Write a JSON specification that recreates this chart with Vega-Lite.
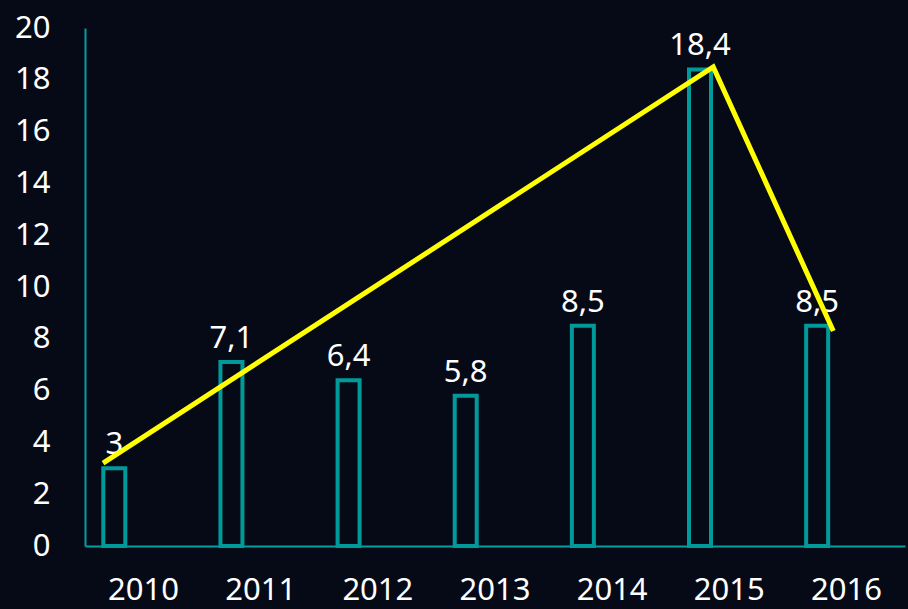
{
  "$schema": "https://vega.github.io/schema/vega-lite/v6.json",
  "width": 820,
  "height": 518,
  "autosize": {"type": "none"},
  "padding": {"left": 85, "top": 28, "right": 3, "bottom": 63},
  "background": "#060a17",
  "config": {
    "view": {"stroke": null},
    "font": "Noto Sans",
    "locale": {"number": {"decimal": ",", "thousands": ".", "grouping": [3], "currency": ["", " €"]}}
  },
  "datasets": {
    "bars": [
      {"year": "2010", "value": 3},
      {"year": "2011", "value": 7.1},
      {"year": "2012", "value": 6.4},
      {"year": "2013", "value": 5.8},
      {"year": "2014", "value": 8.5},
      {"year": "2015", "value": 18.4},
      {"year": "2016", "value": 8.5}
    ],
    "trend": [
      {"x": 2009.654, "value": 3.2},
      {"x": 2014.863, "value": 18.5},
      {"x": 2015.888, "value": 8.3}
    ]
  },
  "layer": [
    {
      "data": {"name": "bars"},
      "encoding": {
        "x": {
          "field": "year", "type": "ordinal",
          "scale": {"paddingInner": 0, "paddingOuter": 0},
          "axis": {"title": null, "labelAngle": 0, "labelColor": "#ffffff", "labelFontSize": 31, "labelPadding": 29, "ticks": false, "domainColor": "#00a0a0", "domainWidth": 2, "grid": false}
        },
        "xOffset": {"datum": "a", "type": "nominal", "scale": {"domain": ["a", "b"], "paddingInner": 0, "paddingOuter": 0}},
        "y": {
          "field": "value", "type": "quantitative",
          "scale": {"domain": [0, 20], "nice": false},
          "axis": {"title": null, "values": [0,2,4,6,8,10,12,14,16,18,20], "labelColor": "#ffffff", "labelFontSize": 31, "labelPadding": 35, "ticks": false, "grid": false, "domainColor": "#00a0a0", "domainWidth": 2}
        }
      },
      "layer": [
        {
          "mark": {"type": "bar", "width": 22, "fill": "#060a17", "fillOpacity": 0, "stroke": "#009a9a", "strokeWidth": 4}
        },
        {
          "mark": {"type": "text", "baseline": "bottom", "dy": -7, "fontSize": 31, "color": "#ffffff"},
          "encoding": {
            "text": {"field": "value", "type": "quantitative", "format": ".2~f"}
          }
        }
      ]
    },
    {
      "data": {"name": "trend"},
      "mark": {"type": "line", "color": "#ffff00", "strokeWidth": 5},
      "encoding": {
        "x": {"field": "x", "type": "quantitative", "scale": {"domain": [2009.5, 2016.5], "nice": false, "zero": false}, "axis": null},
        "y": {"field": "value", "type": "quantitative"}
      }
    }
  ],
  "resolve": {"scale": {"x": "independent"}}
}
